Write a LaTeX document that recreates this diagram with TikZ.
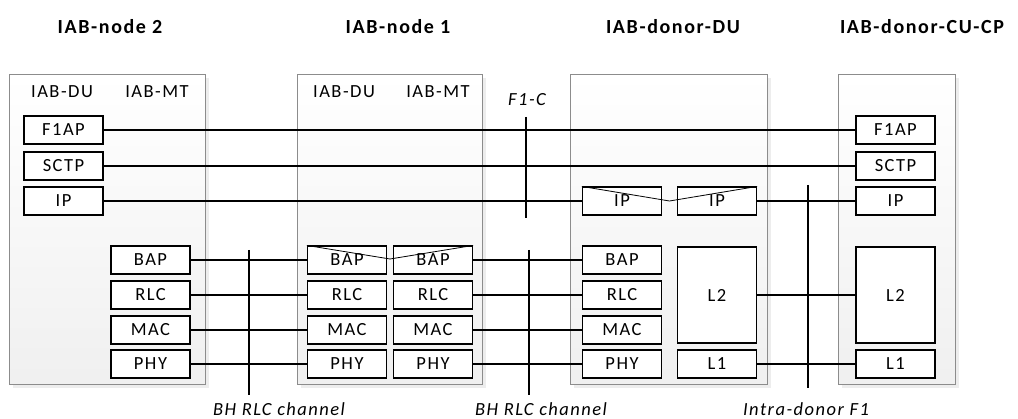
\documentclass[tikz,border=0pt]{standalone}
\usepackage{fontspec}
\setmainfont{Carlito}
\newfontfamily\labfont[LetterSpace=8]{Carlito}
\usepackage{tikz}
\usetikzlibrary{calc,shadows}
\tikzset{
  iab_host/.style = {draw=gray!90, line width=0.9pt, top color=white,
    bottom color=gray!12, inner sep=0pt, anchor=north west,
    drop shadow={shadow xshift=4pt, shadow yshift=-4pt, fill=gray!14,
      opacity=1}},% boite du noeud
  iab_box/.style = {draw=black, fill=white, line width=1.1pt, inner sep=0pt,
    minimum width=79pt, minimum height=28pt,
    font=\labfont\fontsize{18.5}{21}\selectfont},% couche protocolaire
  iab_tag/.style = {inner sep=0pt, font=\labfont\fontsize{18.5}{21}\selectfont},% DU / MT
  iab_title/.style = {inner sep=0pt,
    font=\labfont\bfseries\fontsize{20}{23}\selectfont},% titre
  iab_if/.style = {inner sep=0pt,
    font=\labfont\itshape\fontsize{18.5}{21}\selectfont},% interface
  link/.style = {line width=1.6pt}
}
\begin{document}
\begin{tikzpicture}[x=1pt,y=-1pt]
\useasboundingbox (0,0) rectangle (1018,419);
% titres
\node [iab_title] (t2) at (110,27) {IAB-node 2};
\node [iab_title] (t1) at (398,27) {IAB-node 1};
\node [iab_title] (tdu) at (673,27) {IAB-donor-DU};
\node [iab_title] (tcu) at (922,27) {IAB-donor-CU-CP};
% boites des noeuds
\node [iab_host, minimum width=196pt, minimum height=310pt] (h2) at (9,74) {};
\node [iab_host, minimum width=185pt, minimum height=310pt] (h1) at (297,74) {};
\node [iab_host, minimum width=197pt, minimum height=310pt] (hdu) at (570,74) {};
\node [iab_host, minimum width=117pt, minimum height=310pt] (hcu) at (838,74) {};
\node [iab_tag] (h2du) at (62,92) {IAB-DU};
\node [iab_tag] (h2mt) at (157,92) {IAB-MT};
\node [iab_tag] (h1du) at (344,92) {IAB-DU};
\node [iab_tag] (h1mt) at (438,92) {IAB-MT};
% IAB-node 2
\node [iab_box] (n2f1ap) at (63.5,130) {F1AP};
\node [iab_box] (n2sctp) at (63.5,166) {SCTP};
\node [iab_box] (n2ip) at (63.5,201) {IP};
\node [iab_box] (n2bap) at (150.5,260) {BAP};
\node [iab_box] (n2rlc) at (150.5,295) {RLC};
\node [iab_box] (n2mac) at (150.5,330) {MAC};
\node [iab_box] (n2phy) at (150.5,364) {PHY};
% IAB-node 1
\node [iab_box] (n1bapl) at (347,260) {BAP};
\node [iab_box] (n1rlcl) at (347,295) {RLC};
\node [iab_box] (n1macl) at (347,330) {MAC};
\node [iab_box] (n1phyl) at (347,364) {PHY};
\node [iab_box] (n1bapr) at (433,260) {BAP};
\node [iab_box] (n1rlcr) at (433,295) {RLC};
\node [iab_box] (n1macr) at (433,330) {MAC};
\node [iab_box] (n1phyr) at (433,364) {PHY};
% IAB-donor-DU
\node [iab_box] (duipl) at (622,201) {IP};
\node [iab_box] (duipr) at (717,201) {IP};
\node [iab_box] (dubap) at (622,260) {BAP};
\node [iab_box] (durlc) at (622,295) {RLC};
\node [iab_box] (dumac) at (622,330) {MAC};
\node [iab_box] (duphy) at (622,364) {PHY};
\node [iab_box, minimum height=96pt] (dul2) at (717,295) {L2};
\node [iab_box] (dul1) at (717,364) {L1};
% IAB-donor-CU-CP
\node [iab_box] (cuf1ap) at (895.5,130) {F1AP};
\node [iab_box] (cusctp) at (895.5,166) {SCTP};
\node [iab_box] (cuip) at (895.5,201) {IP};
\node [iab_box, minimum height=96pt] (cul2) at (895.5,295) {L2};
\node [iab_box] (cul1) at (895.5,364) {L1};
% relais
\draw [line width=0.8pt] (n1bapl.north west) -- ($(n1bapl.east)!0.5!(n1bapr.west)+(0,-1)$)
  -- (n1bapr.north east);
\draw [line width=0.8pt] (duipl.north west) -- ($(duipl.east)!0.5!(duipr.west)$)
  -- (duipr.north east);
% liaisons
\draw [link] (n2f1ap) -- (cuf1ap);
\draw [link] (n2sctp) -- (cusctp);
\draw [link] (n2ip) -- (duipl);
\draw [link] (duipr) -- (cuip);
\draw [link] (n2bap) -- (n1bapl);
\draw [link] (n2rlc) -- (n1rlcl);
\draw [link] (n2mac) -- (n1macl);
\draw [link] (n2phy) -- (n1phyl);
\draw [link] (n1bapr) -- (dubap);
\draw [link] (n1rlcr) -- (durlc);
\draw [link] (n1macr) -- (dumac);
\draw [link] (n1phyr) -- (duphy);
\draw [link] (dul2) -- (cul2);
\draw [link] (dul1) -- (cul1);
% interfaces
\coordinate (f1top) at (526,117);
\coordinate (f1bot) at (526,218);
\coordinate (bh2top) at (249,250);
\coordinate (bh2bot) at (249,395);
\coordinate (bh1top) at (529,250);
\coordinate (bh1bot) at (529,395);
\coordinate (idtop) at (808,185);
\coordinate (idbot) at (808,388);
\draw [link] (f1top) -- (f1bot);
\draw [link] (bh2top) -- (bh2bot);
\draw [link] (bh1top) -- (bh1bot);
\draw [link] (idtop) -- (idbot);
\node [iab_if] (f1c) at (527,100) {F1-C};
\node [iab_if] (bh2) at (279,409) {BH RLC channel};
\node [iab_if] (bh1) at (541,409) {BH RLC channel};
\node [iab_if] (idf1) at (806,409) {Intra-donor F1};
\end{tikzpicture}
\end{document}
